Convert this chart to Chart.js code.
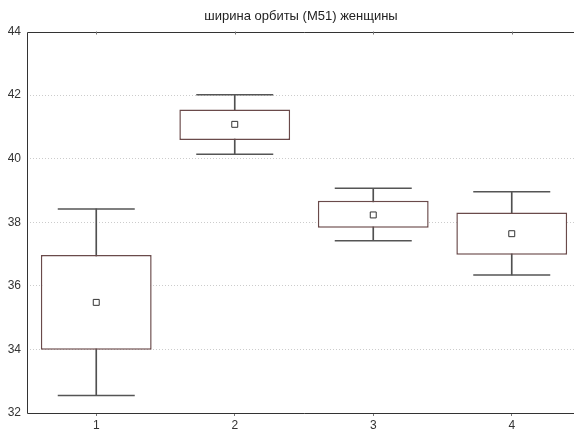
<!DOCTYPE html>
<html>
<head>
<meta charset="utf-8">
<script src="https://cdn.jsdelivr.net/npm/chart.js@4/dist/chart.umd.min.js"></script>
<style>
    html, body { margin: 0; padding: 0; background: #ffffff; overflow: hidden; }
    #wrap { width: 581px; height: 432px; }
</style>
</head>
<body>
<div id="wrap"><canvas id="box-chart"></canvas></div>
<script>
// box plot values
const categories = ['1', '2', '3', '4'];
const whiskerLow = [32.55, 40.14, 37.42, 36.34];
const boxLow = [33.99, 40.59, 37.83, 36.98];
const boxHigh = [36.97, 41.55, 38.68, 38.31];
const whiskerHigh = [38.42, 42.01, 39.07, 38.96];
const means = [35.48, 41.08, 38.23, 37.64];
const yTicks = [32, 34, 36, 38, 40, 42, 44];
const chartTitle = 'ширина орбиты (M51) женщины';

const stems = categories.map((c, i) => [whiskerLow[i], whiskerHigh[i]]);
const boxes = categories.map((c, i) => [boxLow[i], boxHigh[i]]);

// axes frame (left, top, bottom), small ticks on the top edge, title over the plot
const framePlugin = {
    id: 'frame',
    afterDraw(chart) {
        const { ctx, chartArea } = chart;
        const xScale = chart.scales.x;
        ctx.save();
        ctx.strokeStyle = '#333333';
        ctx.lineWidth = 1;
        ctx.beginPath();
        ctx.moveTo(chartArea.right, Math.round(chartArea.top) + 0.5);
        ctx.lineTo(Math.round(chartArea.left) + 0.5, Math.round(chartArea.top) + 0.5);
        ctx.lineTo(Math.round(chartArea.left) + 0.5, Math.round(chartArea.bottom) + 0.5);
        ctx.lineTo(chartArea.right, Math.round(chartArea.bottom) + 0.5);
        ctx.stroke();
        ctx.strokeStyle = '#777777';
        categories.forEach((c, i) => {
            const x = Math.round(xScale.getPixelForValue(i)) + 0.5;
            ctx.beginPath();
            ctx.moveTo(x, chartArea.top);
            ctx.lineTo(x, chartArea.top + 3);
            ctx.stroke();
        });
        ctx.fillStyle = '#222222';
        ctx.font = '13px "Liberation Sans"';
        ctx.textAlign = 'center';
        ctx.textBaseline = 'middle';
        ctx.fillText(chartTitle, (chartArea.left + chartArea.right) / 2 - 3, 16);
        ctx.restore();
    }
};

const ctx = document.getElementById('box-chart').getContext('2d');
const boxChart = new Chart(ctx, {
    type: 'bar',
    data: {
        labels: categories,
        datasets: [
            {
                label: 'mean',
                type: 'line',
                data: means,
                showLine: false,
                pointStyle: 'rect',
                pointRadius: 4.2,
                pointBackgroundColor: '#ffffff',
                pointBorderColor: '#333333',
                pointBorderWidth: 1,
                order: 0
            },
            {
                label: 'cap high',
                type: 'line',
                data: whiskerHigh,
                showLine: false,
                pointStyle: 'line',
                pointRadius: 38.5,
                pointBorderColor: '#555555',
                pointBorderWidth: 1.5,
                order: 0
            },
            {
                label: 'cap low',
                type: 'line',
                data: whiskerLow,
                showLine: false,
                pointStyle: 'line',
                pointRadius: 38.5,
                pointBorderColor: '#555555',
                pointBorderWidth: 1.5,
                order: 0
            },
            {
                label: 'box',
                data: boxes,
                backgroundColor: '#ffffff',
                borderColor: '#6a4a4a',
                borderWidth: 1.5,
                borderSkipped: false,
                barPercentage: 0.8,
                categoryPercentage: 1,
                grouped: false,
                order: 1
            },
            {
                label: 'whisker',
                data: stems,
                backgroundColor: '#505050',
                borderWidth: 0,
                barThickness: 1,
                grouped: false,
                order: 2
            }
        ]
    },
    options: {
        responsive: true,
        maintainAspectRatio: false,
        animation: false,
        layout: { autoPadding: false, padding: { left: 0, right: 0, top: 31.5, bottom: 0 } },
        scales: {
            x: {
                offset: true,
                afterFit: s => { s.height = 19; },
                grid: {
                    offset: false,
                    drawOnChartArea: false,
                    drawTicks: true,
                    tickLength: 3,
                    color: '#777777'
                },
                border: { display: false },
                ticks: {
                    color: '#333333',
                    padding: 2,
                    font: { family: 'Liberation Sans', size: 12 }
                }
            },
            y: {
                min: 32,
                max: 44,
                afterFit: s => { s.width = 27; },
                afterBuildTicks: s => { s.ticks = yTicks.map(v => ({ value: v })); },
                grid: {
                    drawTicks: false,
                    color: c => (c.tick.value === 32 || c.tick.value === 44) ? 'rgba(0,0,0,0)' : '#cccccc'
                },
                border: { display: false, dash: [1, 2] },
                ticks: {
                    color: '#333333',
                    padding: 6,
                    font: { family: 'Liberation Sans', size: 12 }
                }
            }
        },
        plugins: {
            legend: { display: false },
            tooltip: { enabled: false },
            title: { display: false }
        }
    },
    plugins: [framePlugin]
});
</script>
</body>
</html>
